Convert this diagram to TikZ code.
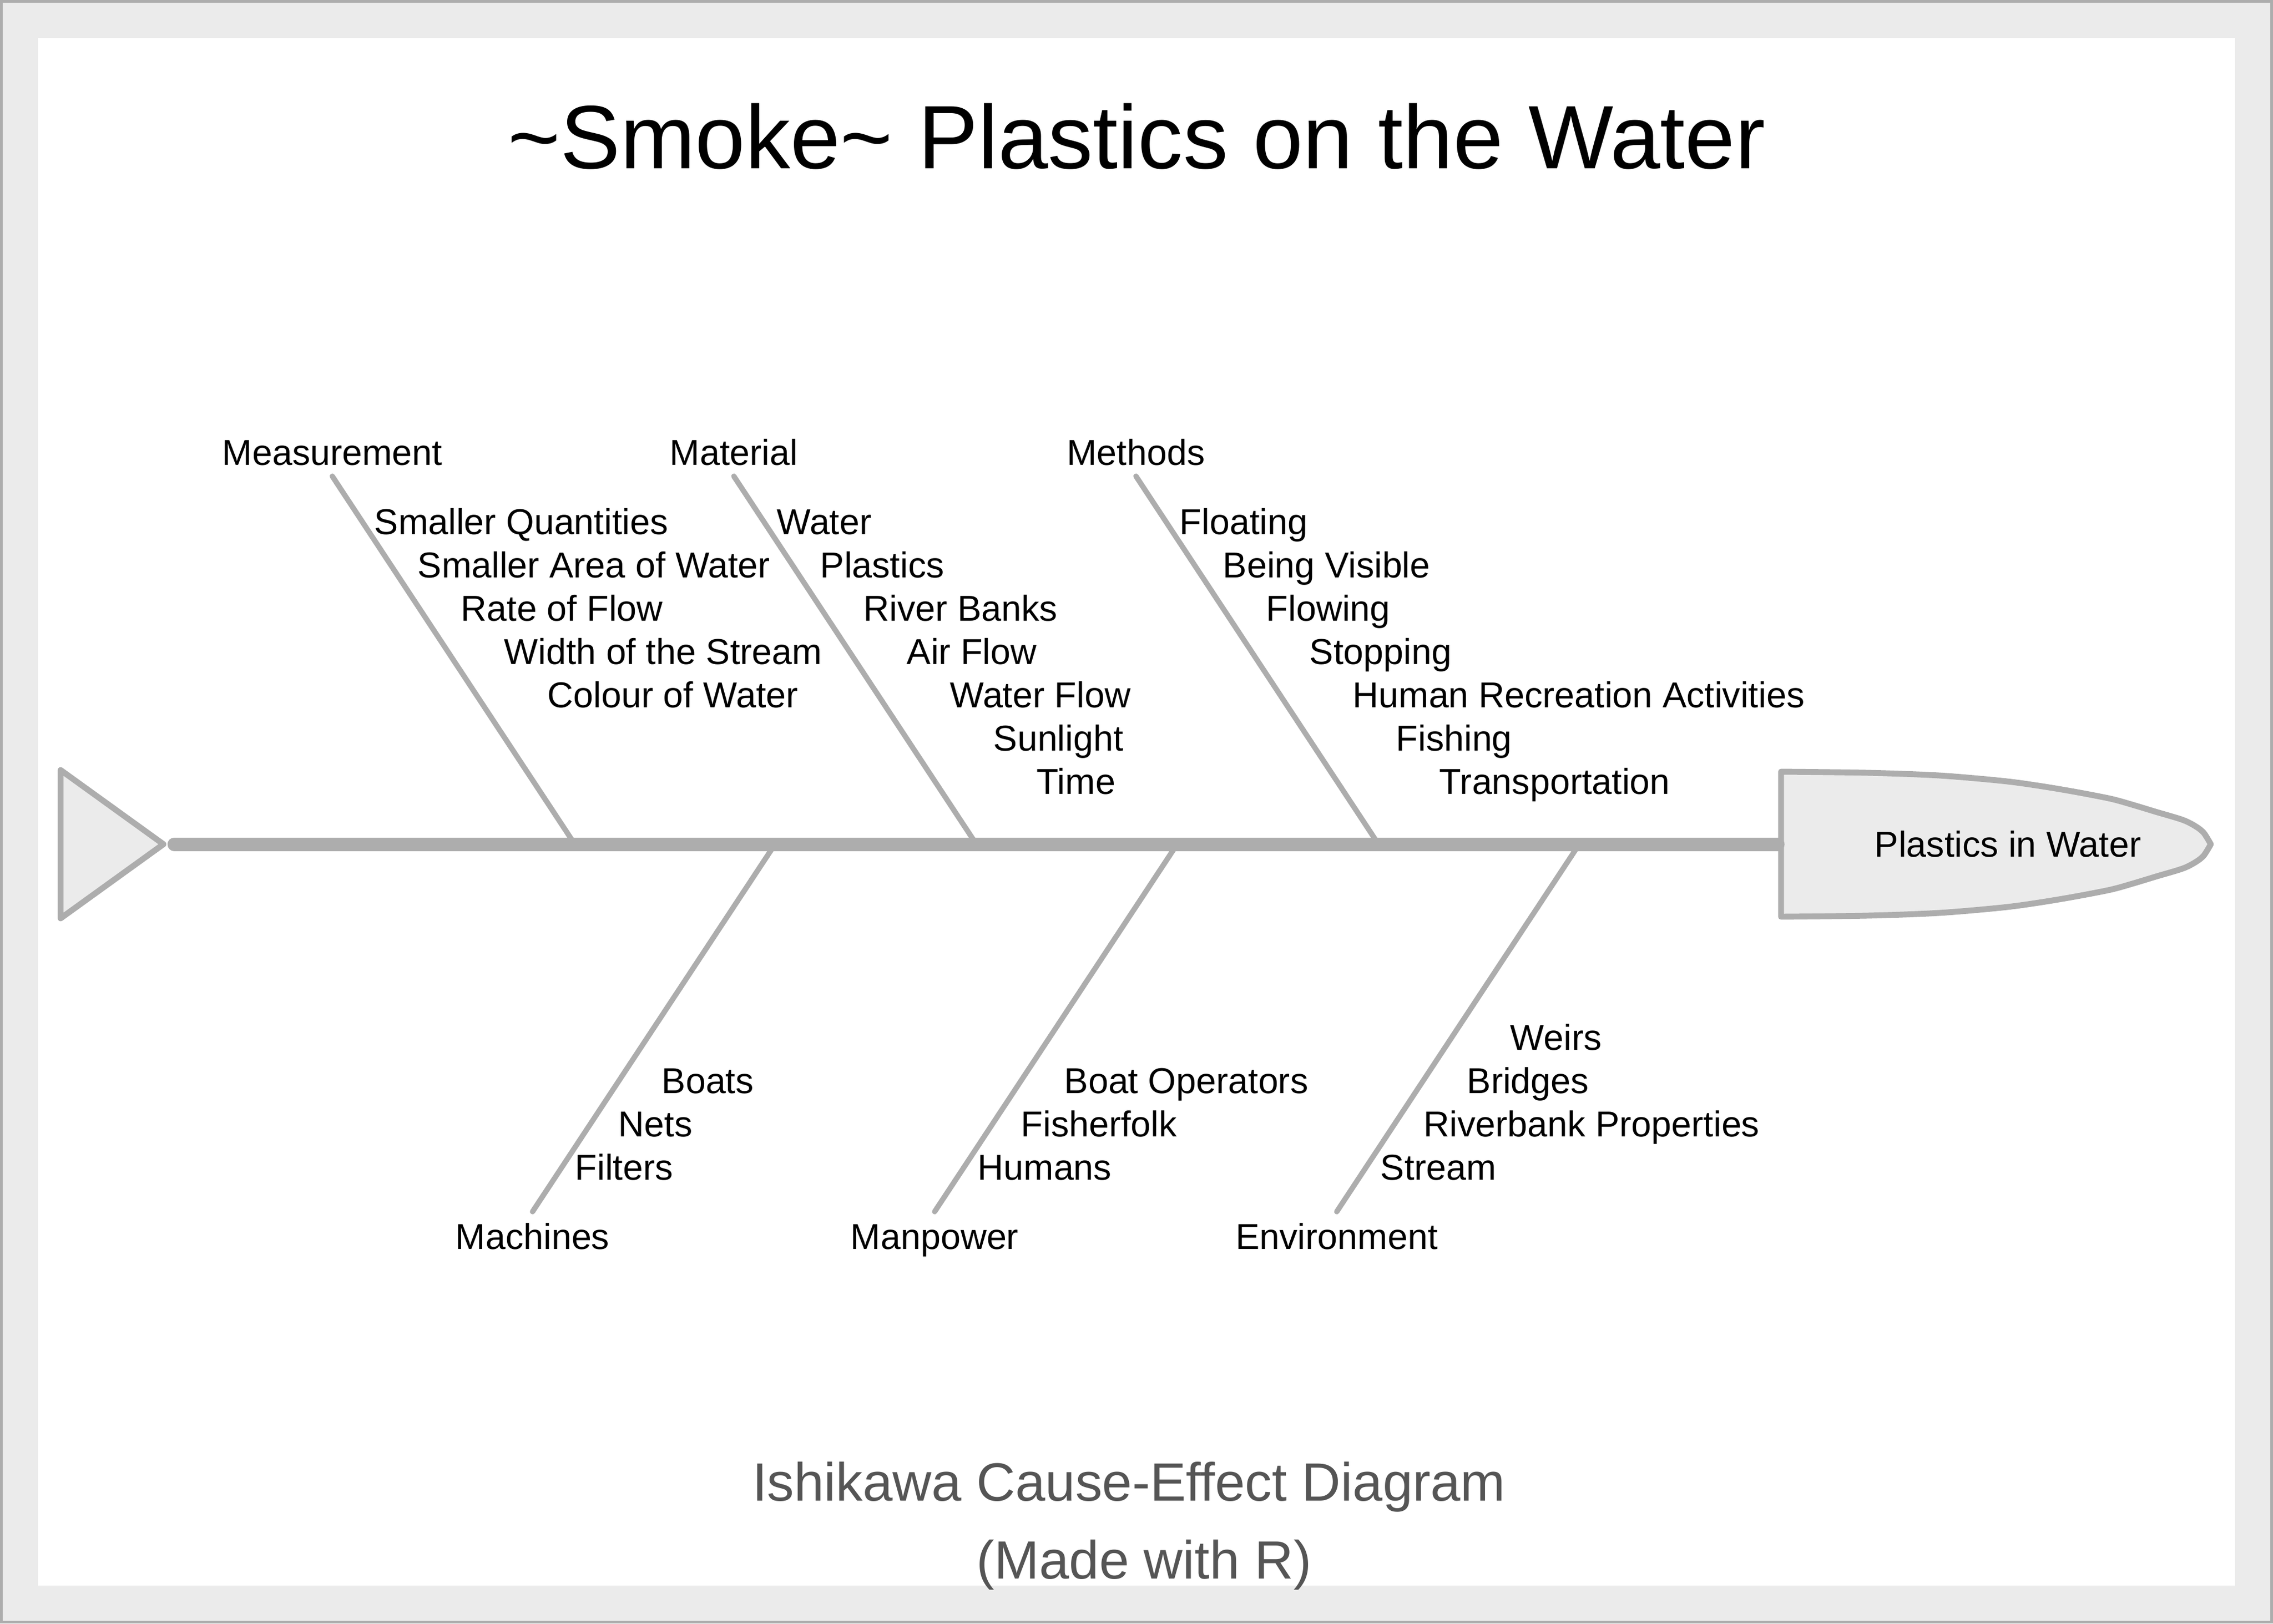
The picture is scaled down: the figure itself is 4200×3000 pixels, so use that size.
\documentclass[tikz,border=0pt]{standalone}
\usepackage{fontspec}
\setmainfont{Liberation Sans}
\definecolor{bandgray}{HTML}{EBEBEB}
\definecolor{linegray}{HTML}{ADADAD}
\definecolor{subgray}{HTML}{555555}
\tikzset{
  lab/.style={inner sep=0pt, font=\fontsize{18.9}{22}\selectfont},
  sublab/.style={lab, anchor=base west},
  catlab/.style={lab, anchor=base},
  bone/.style={draw=linegray, line width=2.8pt, line cap=round},
  spineline/.style={draw=linegray, line width=7.1pt, line cap=round},
  outline/.style={draw=linegray, fill=bandgray, line width=3.1pt, line join=round},
}
\begin{document}
\begin{tikzpicture}[x=0.01cm, y=-0.01cm]
\useasboundingbox (0,0) rectangle (4200,3000);
\fill[bandgray] (0,0) rectangle (4200,3000);
\draw[linegray, line width=1.42pt] (2.5,2.5) rectangle (4197.5,2997.5);
\fill[white] (70,70) rectangle (4130,2930);

% title and subtitle
\node[anchor=base, inner sep=0pt, font=\fontsize{47.3}{56}\selectfont] (title) at (2100,311) {\textasciitilde Smoke\textasciitilde{} Plastics on the Water};
\node[anchor=base, inner sep=0pt, text=subgray, font=\fontsize{28.3}{34}\selectfont] (sub1) at (2086,2773) {Ishikawa Cause-Effect Diagram};
\node[anchor=base, inner sep=0pt, text=subgray, font=\fontsize{28.3}{34}\selectfont] (sub2) at (2114,2917) {(Made with R)};

% tail
\draw[outline] (112,1423) -- (302,1560) -- (112,1697) -- cycle;

% head
\draw[outline] (3291,1694) -- (3291,1426)
  -- plot[smooth, tension=0.5] coordinates {(3291,1426) (3450,1428) (3583,1433) (3700,1443) (3767,1452) (3833,1463) (3900,1476) (3940,1487) (3983,1500) (4033,1515) (4057,1527) (4072,1539) (4085,1560)}
  -- plot[smooth, tension=0.5] coordinates {(4085,1560) (4072,1581) (4057,1593) (4033,1605) (3983,1620) (3940,1633) (3900,1644) (3833,1657) (3767,1668) (3700,1677) (3583,1687) (3450,1692) (3291,1694)}
  -- cycle;
\node[catlab] (effect) at (3710,1583) {Plastics in Water};

% bone coordinates
\coordinate (meaT) at (614,880);  \coordinate (meaB) at (1062,1560);
\coordinate (matT) at (1356,880); \coordinate (matB) at (1804,1560);
\coordinate (metT) at (2099,880); \coordinate (metB) at (2547,1560);
\coordinate (macT) at (1432,1560); \coordinate (macB) at (984,2239);
\coordinate (manT) at (2175,1560); \coordinate (manB) at (1727,2239);
\coordinate (envT) at (2918,1560); \coordinate (envB) at (2470,2239);
\coordinate (tail) at (322,1560);
\coordinate (head) at (3285,1560);

\draw[bone] (meaT) -- (meaB);
\draw[bone] (matT) -- (matB);
\draw[bone] (metT) -- (metB);
\draw[bone] (macT) -- (macB);
\draw[bone] (manT) -- (manB);
\draw[bone] (envT) -- (envB);
\draw[spineline] (tail) -- (head);

% category labels
\node[catlab] (mea) at (614,859) {Measurement};
\node[catlab] (mat) at (1356,859) {Material};
\node[catlab] (met) at (2099,859) {Methods};
\node[catlab] (mac) at (984,2308) {Machines};
\node[catlab] (man) at (1727,2308) {Manpower};
\node[catlab] (env) at (2470,2308) {Environment};

% Measurement
\node[sublab] (mea1) at (691,987) {Smaller Quantities};
\node[sublab] (mea2) at (771,1067) {Smaller Area of Water};
\node[sublab] (mea3) at (851,1147) {Rate of Flow};
\node[sublab] (mea4) at (931,1227) {Width of the Stream};
\node[sublab] (mea5) at (1011,1307) {Colour of Water};
% Material
\node[sublab] (mat1) at (1435,987) {Water};
\node[sublab] (mat2) at (1515,1067) {Plastics};
\node[sublab] (mat3) at (1595,1147) {River Banks};
\node[sublab] (mat4) at (1675,1227) {Air Flow};
\node[sublab] (mat5) at (1755,1307) {Water Flow};
\node[sublab] (mat6) at (1835,1387) {Sunlight};
\node[sublab] (mat7) at (1915,1467) {Time};
% Methods
\node[sublab] (met1) at (2179,987) {Floating};
\node[sublab] (met2) at (2259,1067) {Being Visible};
\node[sublab] (met3) at (2339,1147) {Flowing};
\node[sublab] (met4) at (2419,1227) {Stopping};
\node[sublab] (met5) at (2499,1307) {Human Recreation Activities};
\node[sublab] (met6) at (2579,1387) {Fishing};
\node[sublab] (met7) at (2659,1467) {Transportation};
% Machines
\node[sublab] (mac1) at (1222,2020) {Boats};
\node[sublab] (mac2) at (1142,2100) {Nets};
\node[sublab] (mac3) at (1062,2180) {Filters};
% Manpower
\node[sublab] (man1) at (1966,2020) {Boat Operators};
\node[sublab] (man2) at (1886,2100) {Fisherfolk};
\node[sublab] (man3) at (1806,2180) {Humans};
% Environment
\node[sublab] (env1) at (2790,1940) {Weirs};
\node[sublab] (env2) at (2710,2020) {Bridges};
\node[sublab] (env3) at (2630,2100) {Riverbank Properties};
\node[sublab] (env4) at (2550,2180) {Stream};
\end{tikzpicture}
\end{document}
